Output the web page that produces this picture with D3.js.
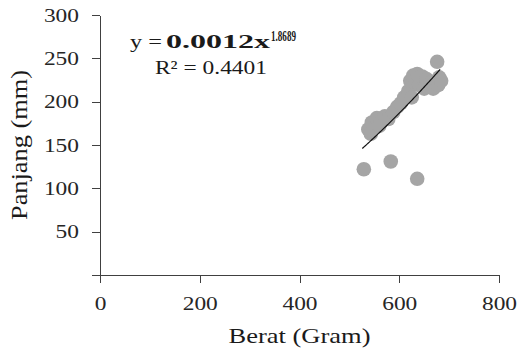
<!DOCTYPE html>
<html lang="en">

<head>
  <meta charset="UTF-8">
  <title>Berat vs Panjang</title>
  <style>
    body {
      margin: 0;
      background: #fff;
    }

    svg {
      font-family: "Liberation Serif", "Times New Roman", serif;
    }

    .axis path,
    .axis line {
      fill: none;
      stroke: #404040;
      stroke-width: 1px;
      shape-rendering: crispEdges;
    }

    .axis text {
      fill: #262626;
      font-size: 19px;
      font-family: "Liberation Serif", serif;
    }

    .dot {
      fill: #a5a5a5;
    }
  </style>
</head>

<body>
  <div id="chart"></div>
  <script src="https://d3js.org/d3.v7.min.js"></script>
  <script>
    // data
    const weights = [529, 583, 636,
      538, 545, 543, 555, 560, 565, 571, 578, 588, 596, 603, 610, 618, 625,
      622, 628, 636, 640, 646, 650, 655, 664, 668, 676, 678, 680, 684];
    const lengths = [122, 131, 111,
      168, 176, 163, 181, 172, 177, 183, 180, 188, 194, 198, 205, 212, 205,
      224, 230, 232, 219, 229, 215, 226, 222, 215, 246, 219, 228, 224];

    const xTicks = [0, 200, 400, 600, 800];
    const yTicks = [0, 50, 100, 150, 200, 250, 300];

    // power trendline y = a * x^b
    const trendA = 0.0012;
    const trendB = 1.8689;
    const rSquared = 0.4401;

    const margin = { top: 15, right: 20, bottom: 81, left: 100 };
    const width = 519 - margin.left - margin.right;
    const height = 356 - margin.top - margin.bottom;

    const svg = d3.select('#chart').append('svg')
      .attr('width', 519)
      .attr('height', 356);

    const g = svg.append('g')
      .attr('transform', `translate(${margin.left},${margin.top})`);

    const x = d3.scaleLinear().domain([0, 800]).range([0, width]);
    const y = d3.scaleLinear().domain([0, 300]).range([height, 0]);

    // x axis
    g.append('g')
      .attr('class', 'axis x')
      .attr('transform', `translate(0,${height})`)
      .call(d3.axisBottom(x).tickValues(xTicks).tickSize(8).tickSizeOuter(0).tickPadding(14))
      .call(s => s.selectAll('text').attr('textLength', d => String(d).length * 11.7)
        .attr('lengthAdjust', 'spacingAndGlyphs'));

    // y axis
    g.append('g')
      .attr('class', 'axis y')
      .call(d3.axisLeft(y).tickValues(yTicks).tickSize(8).tickSizeOuter(0).tickPadding(13)
        .tickFormat(d => d === 0 ? '' : d))
      .call(s => s.selectAll('text').filter(d => d !== 0)
        .attr('textLength', d => String(d).length * 11.7)
        .attr('lengthAdjust', 'spacingAndGlyphs'));

    // points
    const pts = weights.map((w, i) => ({ w: w, l: lengths[i] }));
    g.selectAll('circle.dot')
      .data(pts)
      .enter().append('circle')
      .attr('class', 'dot')
      .attr('cx', d => x(d.w))
      .attr('cy', d => y(d.l))
      .attr('r', 7.3);

    // trendline over the data range
    const xs = d3.range(d3.min(weights) - 3, d3.max(weights) - 1, 2);
    const line = d3.line()
      .x(d => x(d))
      .y(d => y(trendA * Math.pow(d, trendB)));
    g.append('path')
      .datum(xs)
      .attr('fill', 'none')
      .attr('stroke', '#111')
      .attr('stroke-width', 1.2)
      .attr('d', line);

    // equation
    const eq = svg.append('g').attr('fill', '#1a1a1a');
    eq.append('text')
      .attr('x', 130).attr('y', 47.5)
      .style('font-size', '19px')
      .attr('textLength', 32).attr('lengthAdjust', 'spacingAndGlyphs')
      .text('y =');
    eq.append('text')
      .attr('x', 166).attr('y', 47.5)
      .style('font-size', '19px')
      .style('font-weight', 'bold')
      .attr('textLength', 104).attr('lengthAdjust', 'spacingAndGlyphs')
      .text('0.0012x');
    eq.append('text')
      .attr('x', 271).attr('y', 41)
      .style('font-size', '15px')
      .style('font-weight', 'bold')
      .attr('textLength', 25).attr('lengthAdjust', 'spacingAndGlyphs')
      .text(trendB);
    eq.append('text')
      .attr('x', 155).attr('y', 74)
      .style('font-size', '19px')
      .attr('textLength', 112).attr('lengthAdjust', 'spacingAndGlyphs')
      .text('R\u00B2 = ' + rSquared);

    // axis titles
    svg.append('text')
      .attr('x', margin.left + width / 2)
      .attr('y', 343)
      .attr('text-anchor', 'middle')
      .attr('fill', '#1a1a1a')
      .style('font-size', '22px')
      .attr('textLength', 142).attr('lengthAdjust', 'spacingAndGlyphs')
      .text('Berat (Gram)');

    svg.append('text')
      .attr('transform', `translate(27,${margin.top + height / 2}) rotate(-90)`)
      .attr('text-anchor', 'middle')
      .attr('fill', '#1a1a1a')
      .style('font-size', '24px')
      .attr('textLength', 150).attr('lengthAdjust', 'spacingAndGlyphs')
      .text('Panjang (mm)');
  </script>
</body>

</html>
